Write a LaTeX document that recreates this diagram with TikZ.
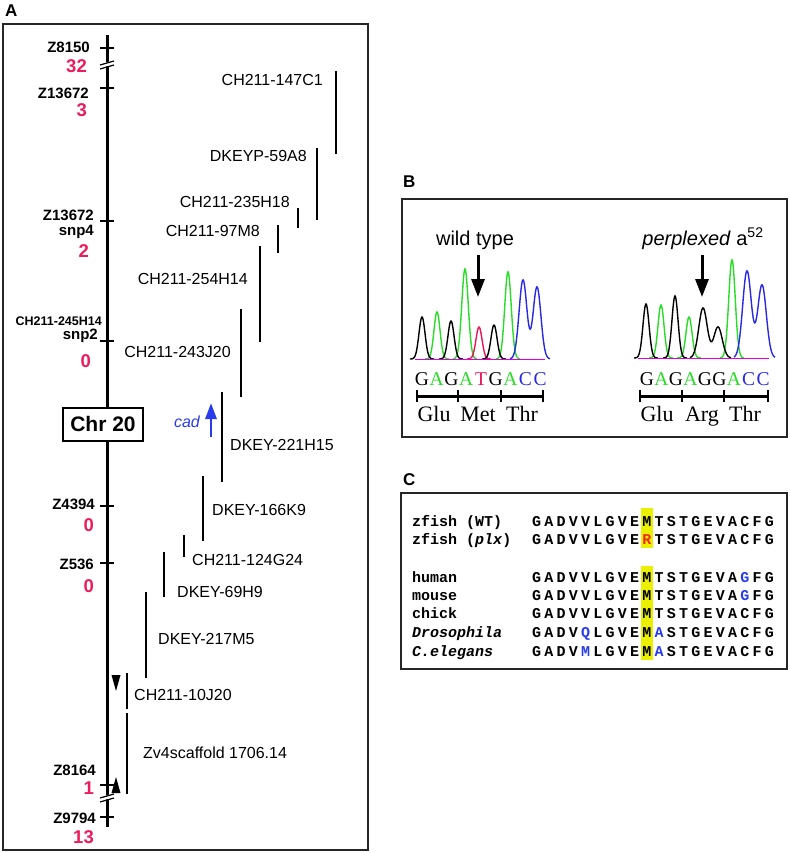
\documentclass[tikz,border=0pt]{standalone}
\usepackage{fontspec}
\setmainfont{Liberation Sans}
\newfontfamily\serifff{Liberation Serif}
\newfontfamily\monoff{Liberation Mono}
\usetikzlibrary{arrows.meta}
\definecolor{mred}{RGB}{236,28,92}
\definecolor{mblue}{RGB}{40,60,235}
\definecolor{cgreen}{RGB}{40,220,40}
\definecolor{cred}{RGB}{235,20,90}
\definecolor{cblue}{RGB}{40,40,230}
\definecolor{cmag}{RGB}{220,0,220}
\definecolor{hyel}{RGB}{235,240,0}
\definecolor{rred}{RGB}{240,40,20}
\newcommand\chpk[4]{\draw[#1,chrom] plot[domain=#2-12:#2+12,samples=45,smooth] (\x,{\chbase-#3*exp(-((\x-#2)/#4)^2)});}
\newcommand\chpkk[6]{\draw[#1,chrom] plot[domain=#2-13:#4+13,samples=80,smooth] (\x,{\chbase-#3*exp(-((\x-#2)/#6)^2)-#5*exp(-((\x-#4)/#6)^2)});}
\newcommand\seqrow[3]{\foreach \ch [count=\i from 0] in {#2} \node[seq] (#3-\i) at (536.5+12.26*\i,#1) {\ch};}
\begin{document}
\begin{tikzpicture}[x=1pt,y=-1pt,
  lbl/.style={inner sep=0pt,anchor=base east,font=\fontsize{15}{15}\selectfont\bfseries},
  num/.style={inner sep=0pt,anchor=base east,text=mred,font=\fontsize{18.5}{18.5}\selectfont\bfseries},
  clE/.style={inner sep=0pt,anchor=base east,font=\fontsize{16}{16}\selectfont},
  clW/.style={inner sep=0pt,anchor=base west,font=\fontsize{16}{16}\selectfont},
  clone/.style={line width=2pt},
  tickmark/.style={line width=2pt},
  frame/.style={line width=2pt,draw=black!85},
  plbl/.style={inner sep=0pt,anchor=base west,font=\fontsize{17}{17}\selectfont\bfseries},
  chrom/.style={line width=1.4pt},
  basech/.style={inner sep=0pt,anchor=base,font=\serifff\fontsize{19.5}{19.5}\selectfont},
  aa/.style={inner sep=0pt,anchor=base,font=\serifff\fontsize{22}{22}\selectfont},
  seq/.style={inner sep=0pt,anchor=base,font=\monoff\fontsize{15}{15}\selectfont\bfseries},
  seqname/.style={inner sep=0pt,anchor=base west,font=\monoff\fontsize{15}{15}\selectfont\bfseries},
  bigarrow/.style={line width=3pt,-{Triangle[width=13pt,length=18pt]}}]
\useasboundingbox (0,0) rectangle (789,853);
% ---------------- Panel A ----------------
\node[plbl] (pA) at (5,17) {A};
\draw[frame] (3,24) rectangle (368,850);
\draw[line width=3pt] (107,35) -- (107,827);
\foreach \yy in {48,88,221,341,506,563,785,817} \draw[tickmark] (100,\yy) -- (114,\yy);
% breaks
\fill[white] (99,64.5) -- (115,60) -- (115,64) -- (99,68.5) -- cycle;
\draw[line width=1.2pt] (100,65) -- (114,61) (100,69) -- (114,65);
\fill[white] (99,797.5) -- (115,793) -- (115,797) -- (99,801.5) -- cycle;
\draw[line width=1.2pt] (100,798) -- (114,794) (100,802) -- (114,798);
% markers
\node[lbl] (m1) at (90,53) {Z8150};
\node[num] (n1) at (87,73) {32};
\node[lbl] (m2) at (89,99) {Z13672};
\node[num] (n2) at (87,117) {3};
\node[lbl] (m3) at (94,220) {Z13672};
\node[lbl] (m3b) at (94,235) {snp4};
\node[num] (n3) at (89,257) {2};
\node[lbl,font=\fontsize{12.5}{12.5}\selectfont\bfseries] (m4) at (102,325) {CH211-245H14};
\node[lbl] (m4b) at (98,339) {snp2};
\node[num] (n4) at (91,367) {0};
\node[lbl] (m5) at (95,509) {Z4394};
\node[num] (n5) at (94,531) {0};
\node[lbl] (m6) at (94,569) {Z536};
\node[num] (n6) at (94,592) {0};
\node[lbl] (m7) at (96,775) {Z8164};
\node[num] (n7) at (94,794) {1};
\node[lbl] (m8) at (96,823) {Z9794};
\node[num] (n8) at (94,843) {13};
% triangles
\fill (111.5,675) -- (120.5,675) -- (116,691) -- cycle;
\fill (116,777) -- (111.5,793) -- (120.5,793) -- cycle;
% Chr 20 box
\node[draw,line width=2pt,fill=white,minimum width=80pt,minimum height=33pt,inner sep=0pt,font=\fontsize{21}{21}\selectfont\bfseries] (chr) at (103,424) {Chr 20};
% clones
\draw[clone] (336,71) -- (336,154);
\node[clE] (c1) at (323,86) {CH211-147C1};
\draw[clone] (317,148) -- (317,220);
\node[clE] (c2) at (307,161) {DKEYP-59A8};
\draw[clone] (298,208) -- (298,228);
\node[clE] (c3) at (290,207) {CH211-235H18};
\draw[clone] (278,225) -- (278,253);
\node[clE] (c4) at (260,236) {CH211-97M8};
\draw[clone] (260,246) -- (260,342);
\node[clE] (c5) at (248,284) {CH211-254H14};
\draw[clone] (241,309) -- (241,397);
\node[clE] (c6) at (231,357) {CH211-243J20};
\draw[clone] (222,392) -- (222,482);
\node[clW] (c7) at (230,450) {DKEY-221H15};
\draw[clone] (203,476) -- (203,541);
\node[clW] (c8) at (212,515) {DKEY-166K9};
\draw[clone] (184,535) -- (184,557);
\node[clW] (c9) at (192,565) {CH211-124G24};
\draw[clone] (164,552) -- (164,597);
\node[clW] (c10) at (177,597) {DKEY-69H9};
\draw[clone] (146,592) -- (146,678);
\node[clW] (c11) at (158,644) {DKEY-217M5};
\draw[clone] (127,673) -- (127,709);
\node[clW] (c12) at (134,700) {CH211-10J20};
\draw[clone] (127,713) -- (127,794);
\node[clW] (c13) at (143,758) {Zv4scaffold 1706.14};
% cad
\coordinate (cadA) at (211,437);
\coordinate (cadB) at (211,403);
\draw[mblue,line width=2.8pt,-{Triangle[width=11pt,length=16pt]}] (cadA) -- (cadB);
\node[clE,text=mblue,font=\fontsize{16}{16}\selectfont\itshape] (cad) at (200,427) {cad};
% ---------------- Panel B ----------------
\node[plbl] (pB) at (403,187) {B};
\draw[frame] (402,199) rectangle (787,437);
\node[inner sep=0pt,anchor=base,font=\fontsize{20}{20}\selectfont] (wt) at (475,245) {wild type};
\node[inner sep=0pt,anchor=base,font=\fontsize{20}{20}\selectfont] (mt) at (703,245) {\textit{perplexed} a$^{\mathrm{52}}$};
\coordinate (a1s) at (478,255); \coordinate (a1e) at (478,297);
\coordinate (a2s) at (702,255); \coordinate (a2e) at (702,297);
\draw[bigarrow] (a1s) -- (a1e);
\draw[bigarrow] (a2s) -- (a2e);
% left chromatogram
\def\chbase{359}
\chpk{cgreen}{437}{47}{4.3}
\chpk{cgreen}{465}{90}{4.6}
\chpk{cgreen}{508}{87}{4.6}
\chpk{cred}{479}{32}{4.3}
\chpkk{cblue}{523}{79}{537}{72}{5.5}
\chpk{black}{422}{42}{4.3}
\chpk{black}{451}{38}{4.3}
\chpk{black}{494}{34}{4.3}
\draw[cmag,line width=1pt] (415,359) -- (545,359);
% right chromatogram
\def\chbase{358}
\chpk{cgreen}{661}{53}{4.3}
\chpk{cgreen}{689}{41}{4.3}
\chpk{cgreen}{732}{98}{4.6}
\chpkk{cblue}{747}{87}{762}{73}{6.1}
\chpk{black}{646}{54}{4.3}
\chpk{black}{675}{62}{4.3}
\chpkk{black}{703}{50}{718}{31}{6}
\draw[cmag,line width=1pt] (638,358) -- (769,358);
% bases
\foreach \b/\c [count=\i from 0] in {G/black,A/cgreen,G/black,A/cgreen,T/cred,G/black,A/cgreen,C/cblue,C/cblue}
  \node[basech,text=\c] (bl\i) at (422+14.75*\i,385) {\b};
\foreach \b/\c [count=\i from 0] in {G/black,A/cgreen,G/black,A/cgreen,G/black,G/black,A/cgreen,C/cblue,C/cblue}
  \node[basech,text=\c] (br\i) at (647+14.5*\i,385) {\b};
\draw[line width=3pt] (417,396) -- (543,396);
\foreach \xx in {417,458,501,543} \draw[line width=2.5pt] (\xx,390) -- (\xx,402);
\draw[line width=3pt] (640,396) -- (768,396);
\foreach \xx in {640,682,724,768} \draw[line width=2.5pt] (\xx,390) -- (\xx,402);
\node[aa] (g1) at (434,421) {Glu};
\node[aa] (g2) at (478,421) {Met};
\node[aa] (g3) at (522,421) {Thr};
\node[aa] (g4) at (657,421) {Glu};
\node[aa] (g5) at (702,421) {Arg};
\node[aa] (g6) at (745,421) {Thr};
% ---------------- Panel C ----------------
\node[plbl] (pC) at (403,485) {C};
\draw[frame] (401,493) rectangle (787,669);
\fill[hyel] (641,508) rectangle (653,548);
\fill[hyel] (641,566) rectangle (653,660);
\node[seqname] (s1) at (412,526) {zfish (WT)};
\node[seqname] (s2) at (412,544) {zfish (\textit{plx})};
\node[seqname] (s3) at (412,582) {human};
\node[seqname] (s4) at (412,600) {mouse};
\node[seqname] (s5) at (412,618) {chick};
\node[seqname] (s6) at (412,637) {\textit{Drosophila}};
\node[seqname] (s7) at (412,656) {\textit{C.elegans}};
\seqrow{526}{G,A,D,V,V,L,G,V,E,M,T,S,T,G,E,V,A,C,F,G}{r1}
\seqrow{544}{G,A,D,V,V,L,G,V,E,\textcolor{rred}{R},T,S,T,G,E,V,A,C,F,G}{r2}
\seqrow{582}{G,A,D,V,V,L,G,V,E,M,T,S,T,G,E,V,A,\textcolor{mblue}{G},F,G}{r3}
\seqrow{600}{G,A,D,V,V,L,G,V,E,M,T,S,T,G,E,V,A,\textcolor{mblue}{G},F,G}{r4}
\seqrow{618}{G,A,D,V,V,L,G,V,E,M,T,S,T,G,E,V,A,C,F,G}{r5}
\seqrow{637}{G,A,D,V,\textcolor{mblue}{Q},L,G,V,E,M,\textcolor{mblue}{A},S,T,G,E,V,A,C,F,G}{r6}
\seqrow{656}{G,A,D,V,\textcolor{mblue}{M},L,G,V,E,M,\textcolor{mblue}{A},S,T,G,E,V,A,C,F,G}{r7}
\end{tikzpicture}
\end{document}
